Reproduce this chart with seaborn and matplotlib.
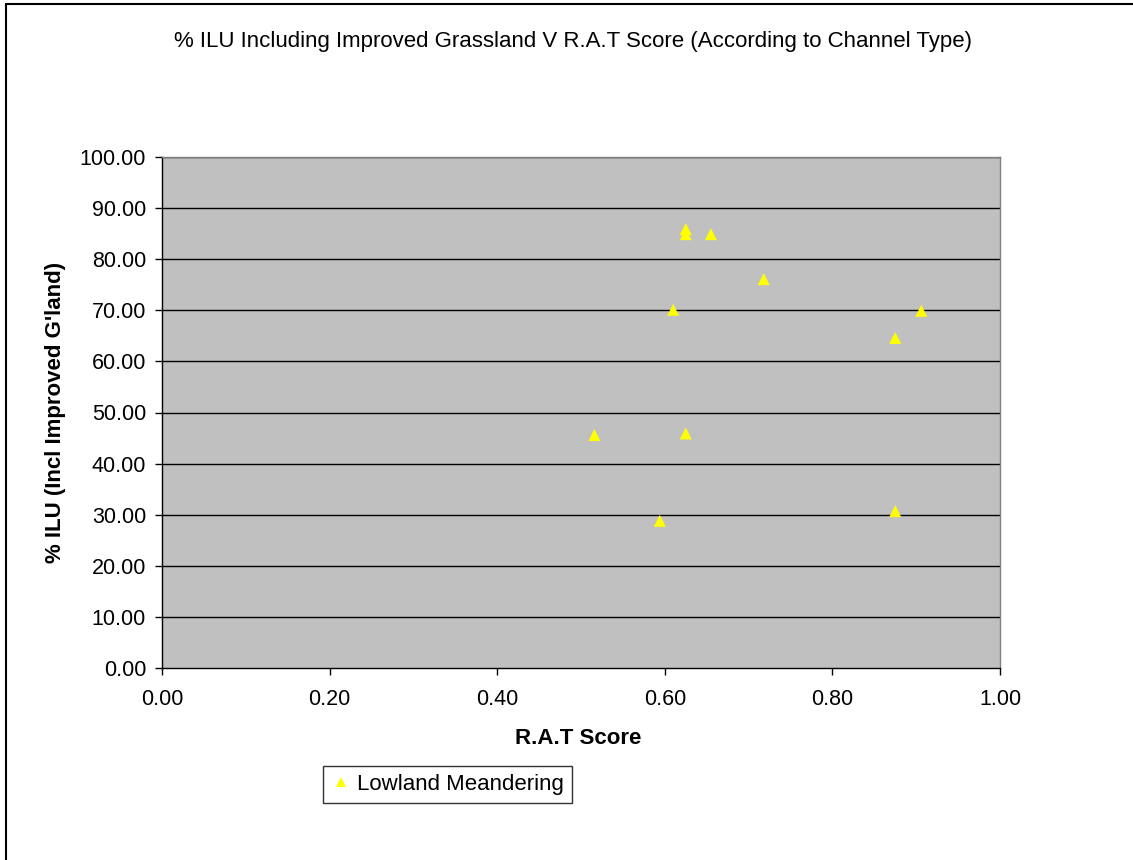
import matplotlib
matplotlib.use("Agg")
import matplotlib.pyplot as plt
import seaborn as sns
import pandas as pd
from matplotlib.lines import Line2D

rat_score = [0.516, 0.594, 0.610, 0.625, 0.625, 0.625, 0.655, 0.718, 0.875, 0.875, 0.906]
ilu_pct = [45.6, 28.8, 70.1, 85.9, 84.9, 45.9, 84.9, 76.1, 64.6, 30.7, 69.9]
series = ["Lowland Meandering"] * len(rat_score)

title = "% ILU Including Improved Grassland V R.A.T Score (According to Channel Type)"
x_label = "R.A.T Score"
y_label = "% ILU (Incl Improved G'land)"
x_ticks = [0.0, 0.2, 0.4, 0.6, 0.8, 1.0]
y_ticks = [0, 10, 20, 30, 40, 50, 60, 70, 80, 90, 100]

df = pd.DataFrame({"rat": rat_score, "ilu": ilu_pct, "type": series})

sns.set_style("white")
plt.rcParams["font.family"] = ["Liberation Sans", "DejaVu Sans"]
plt.rcParams["text.color"] = "black"
plt.rcParams["axes.labelcolor"] = "black"
plt.rcParams["xtick.color"] = "black"
plt.rcParams["ytick.color"] = "black"

fig = plt.figure(figsize=(11.33, 8.6), dpi=100)
ax = fig.add_axes([162/1133, 1 - 668/860, (1000-162)/1133, (668-157)/860])
ax.set_facecolor("#C0C0C0")

sns.scatterplot(data=df, x="rat", y="ilu", hue="type", palette=["#FFFF00"],
                marker="^", s=75, linewidth=0, ax=ax, zorder=3)

ax.set_xlim(0, 1)
ax.set_ylim(0, 100)
ax.set_xticks(x_ticks)
ax.set_xticklabels([f"{v:.2f}" for v in x_ticks])
ax.set_yticks(y_ticks)
ax.set_yticklabels([f"{v:.2f}" for v in y_ticks])
ax.tick_params(axis="both", labelsize=15.5, direction="out", length=5, width=1,
               color="black", left=True, bottom=True)
ax.tick_params(axis="x", pad=10)
ax.tick_params(axis="y", pad=6.5)
for t in y_ticks[1:]:
    ax.axhline(t, color="black", linewidth=1, zorder=1)
for name, sp in ax.spines.items():
    sp.set_color("#808080" if name in ("top", "right") else "black")
    sp.set_linewidth(1)

ax.set_xlabel(x_label, fontsize=16, fontweight="bold")
ax.set_ylabel(y_label, fontsize=16, fontweight="bold")
ax.xaxis.set_label_coords(0.497, -0.117)
ax.yaxis.set_label_coords(-0.114, 0.5)

fig.text(573/1133, 1 - 42/860, title, ha="center", va="center", fontsize=16)

leg = ax.legend(loc="upper left", bbox_to_anchor=(323/1133, 1 - 766/860),
                bbox_transform=fig.transFigure, fontsize=16, frameon=True,
                fancybox=False, edgecolor="black", handletextpad=0.3,
                borderpad=0.35, markerscale=0.8, handlelength=0.9,
                borderaxespad=0)
leg.get_frame().set_linewidth(1)

fig.add_artist(Line2D([6/1133, 6/1133], [0, 1 - 4/860], transform=fig.transFigure,
                      color="black", linewidth=1.5))
fig.add_artist(Line2D([6/1133, 1], [1 - 4/860, 1 - 4/860], transform=fig.transFigure,
                      color="black", linewidth=1.5))

fig.savefig("out.png", dpi=100, facecolor="white")
